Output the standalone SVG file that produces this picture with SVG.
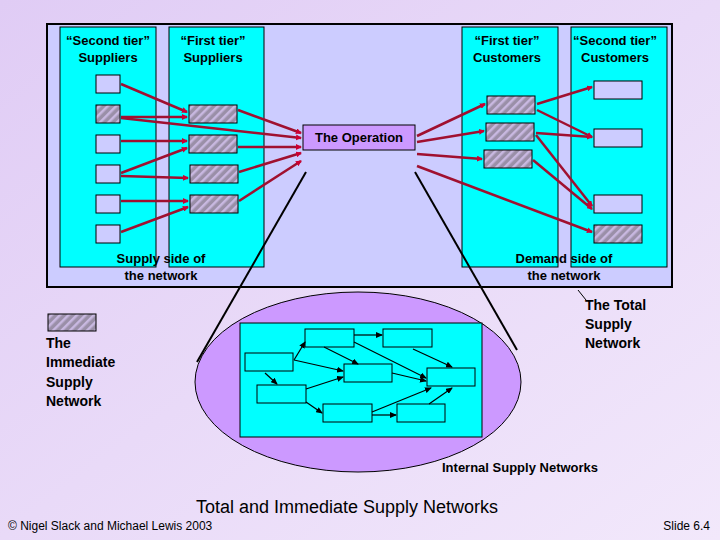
<svg xmlns="http://www.w3.org/2000/svg" width="720" height="540" viewBox="0 0 720 540">
<defs>
<linearGradient id="bg" x1="0" y1="0" x2="1" y2="1"><stop offset="0" stop-color="#e0ccf5"/><stop offset="1" stop-color="#f2e8fb"/></linearGradient>
<pattern id="hatch" width="6" height="6" patternUnits="userSpaceOnUse" patternTransform="rotate(45)"><rect width="6" height="6" fill="#9a8fa8"/><rect width="2.5" height="6" fill="#c8b8e0"/></pattern>
<marker id="ar" markerWidth="6" markerHeight="6" refX="5" refY="3" orient="auto" markerUnits="userSpaceOnUse"><path d="M0,0L6,3L0,6z" fill="#cc0033"/></marker>
<marker id="ak" markerWidth="7" markerHeight="6" refX="6" refY="3" orient="auto" markerUnits="userSpaceOnUse"><path d="M0,0L7,3L0,6z" fill="#000"/></marker>
</defs>
<style>
text{font-family:"Liberation Sans",Arial,sans-serif;fill:#000}
.h{font-size:13px;text-anchor:middle;font-weight:bold}
.b{stroke:#000;stroke-width:1}
.col{fill:#00ffff;stroke:#000}
.w{fill:#ccccff;stroke:#000}
.x{fill:url(#hatch);stroke:#000}
.cy{fill:#00ffff;stroke:#000}
#connectors line.r{stroke:#a01030;stroke-width:2.5;marker-end:url(#ar)}
#connectors line.k{stroke:#000;stroke-width:1.2;marker-end:url(#ak)}
#connectors line.p{stroke:#000;stroke-width:2}
.l{font-size:14px;font-weight:bold}
</style>
<rect width="720" height="540" fill="url(#bg)"/>
<rect x="47" y="24" width="625" height="263" fill="#ccccff" stroke="#000" stroke-width="2"/>
<g id="col-s2"><rect class="col" x="60" y="27" width="96" height="240"/><text class="h" x="108" y="45">“Second tier”</text><text class="h" x="108" y="62">Suppliers</text></g>
<g id="col-s1"><rect class="col" x="169" y="27" width="95" height="240"/><text class="h" x="213" y="45">“First tier”</text><text class="h" x="213" y="62">Suppliers</text></g>
<g id="col-c1"><rect class="col" x="462" y="27" width="96" height="240"/><text class="h" x="507" y="45">“First tier”</text><text class="h" x="507" y="62">Customers</text></g>
<g id="col-c2"><rect class="col" x="571" y="27" width="96" height="240"/><text class="h" x="615" y="45">“Second tier”</text><text class="h" x="615" y="62">Customers</text></g>
<g id="s2-nodes">
<rect class="w" x="96" y="75" width="24" height="18"/><rect class="x" x="96" y="105" width="24" height="18"/>
<rect class="w" x="96" y="135" width="24" height="18"/><rect class="w" x="96" y="165" width="24" height="18"/>
<rect class="w" x="96" y="195" width="24" height="18"/><rect class="w" x="96" y="225" width="24" height="18"/>
</g>
<g id="s1-nodes">
<rect class="x" x="189" y="105" width="48" height="18"/><rect class="x" x="189" y="135" width="48" height="18"/>
<rect class="x" x="190" y="165" width="48" height="18"/><rect class="x" x="190" y="195" width="48" height="18"/>
</g>
<g id="c1-nodes">
<rect class="x" x="487" y="96" width="48" height="18"/><rect class="x" x="486" y="123" width="48" height="18"/>
<rect class="x" x="484" y="150" width="48" height="18"/>
</g>
<g id="c2-nodes">
<rect class="w" x="594" y="81" width="48" height="18"/><rect class="w" x="594" y="129" width="48" height="18"/>
<rect class="w" x="594" y="195" width="48" height="18"/><rect class="x" x="594" y="225" width="48" height="18"/>
</g>
<g id="operation"><rect x="303" y="125" width="112" height="25" fill="#cc99ff" stroke="#000"/><text class="h" x="359" y="142">The Operation</text></g>
<text class="h" x="161" y="263">Supply side of</text><text class="h" x="161" y="280">the network</text>
<text class="h" x="564" y="263">Demand side of</text><text class="h" x="564" y="280">the network</text>
<g id="internal"><ellipse cx="358" cy="382" rx="163" ry="90" fill="#cc99ff" stroke="#000"/>
<rect class="cy" x="240" y="323" width="242" height="114"/>
<rect class="cy" x="305" y="329" width="49" height="18"/><rect class="cy" x="383" y="329" width="49" height="18"/>
<rect class="cy" x="245" y="353" width="48" height="18"/><rect class="cy" x="344" y="364" width="48" height="18"/>
<rect class="cy" x="427" y="368" width="48" height="18"/><rect class="cy" x="257" y="385" width="49" height="18"/>
<rect class="cy" x="323" y="404" width="49" height="18"/><rect class="cy" x="397" y="404" width="48" height="18"/>
</g>
<g id="connectors">
<line class="r" x1="121" y1="84" x2="187" y2="112"/>
<line class="r" x1="121" y1="117" x2="187" y2="117"/>
<line class="r" x1="121" y1="118" x2="301" y2="138"/>
<line class="r" x1="238" y1="110" x2="301" y2="133"/>
<line class="r" x1="121" y1="141" x2="187" y2="141"/>
<line class="r" x1="121" y1="173" x2="187" y2="148"/>
<line class="r" x1="238" y1="147" x2="301" y2="147"/>
<line class="r" x1="121" y1="176" x2="188" y2="178"/>
<line class="r" x1="239" y1="172" x2="301" y2="153"/>
<line class="r" x1="121" y1="201" x2="188" y2="201"/>
<line class="r" x1="121" y1="232" x2="188" y2="207"/>
<line class="r" x1="239" y1="201" x2="301" y2="161"/>
<line class="r" x1="417" y1="136" x2="485" y2="104"/>
<line class="r" x1="417" y1="142" x2="484" y2="131"/>
<line class="r" x1="417" y1="154" x2="482" y2="159"/>
<line class="r" x1="417" y1="166" x2="592" y2="232"/>
<line class="r" x1="537" y1="104" x2="592" y2="87"/>
<line class="r" x1="537" y1="110" x2="592" y2="137"/>
<line class="r" x1="536" y1="133" x2="592" y2="137"/>
<line class="r" x1="536" y1="135" x2="592" y2="206"/>
<line class="r" x1="533" y1="160" x2="592" y2="209"/>
<line class="p" x1="306" y1="172" x2="197" y2="362"/>
<line class="p" x1="415" y1="172" x2="517" y2="350"/>
<line class="b" x1="578" y1="290" x2="586" y2="300"/>
<line class="k" x1="294" y1="360" x2="305" y2="342"/>
<line class="k" x1="354" y1="335" x2="382" y2="335"/>
<line class="k" x1="324" y1="347" x2="358" y2="364"/>
<line class="k" x1="294" y1="360" x2="343" y2="371"/>
<line class="k" x1="354" y1="342" x2="426" y2="378"/>
<line class="k" x1="413" y1="349" x2="452" y2="367"/>
<line class="k" x1="265" y1="373" x2="277" y2="384"/>
<line class="k" x1="306" y1="389" x2="343" y2="377"/>
<line class="k" x1="392" y1="373" x2="426" y2="381"/>
<line class="k" x1="306" y1="402" x2="322" y2="413"/>
<line class="k" x1="372" y1="412" x2="431" y2="388"/>
<line class="k" x1="372" y1="415" x2="396" y2="415"/>
<line class="k" x1="429" y1="404" x2="452" y2="388"/>
</g>
<g id="legend"><rect class="x" x="48" y="314" width="48" height="17"/>
<text class="l" x="46" y="348">The</text><text class="l" x="46" y="367">Immediate</text><text class="l" x="46" y="387">Supply</text><text class="l" x="46" y="406">Network</text></g>
<g id="total-label"><text class="l" x="585" y="310">The Total</text><text class="l" x="585" y="329">Supply</text><text class="l" x="585" y="348">Network</text></g>
<text x="442" y="472" font-size="13" font-weight="bold">Internal Supply Networks</text>
<text x="347" y="513" font-size="18" text-anchor="middle">Total and Immediate Supply Networks</text>
<text x="8" y="530" font-size="12">© Nigel Slack and Michael Lewis 2003</text>
<text x="710" y="530" font-size="12" text-anchor="end">Slide 6.4</text>
</svg>
